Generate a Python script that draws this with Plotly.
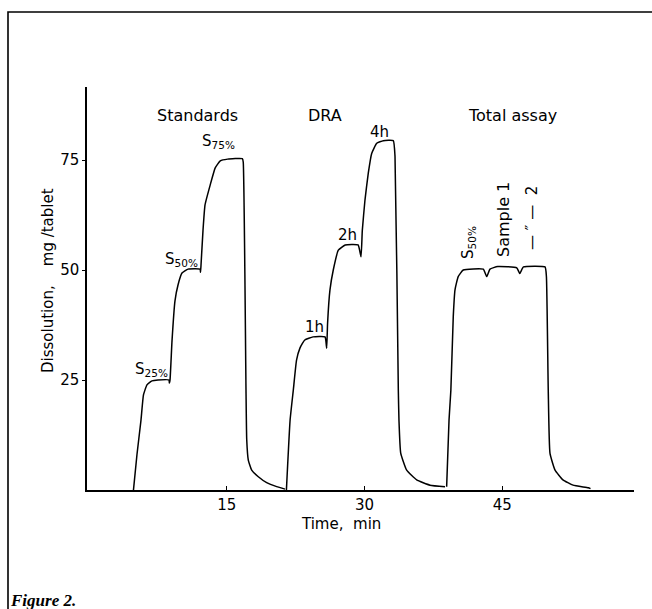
import plotly.graph_objects as go

# ---------------- data ----------------
std_time = [4.85, 5.23, 5.67, 5.94, 6.32, 6.87, 7.52, 8.72, 8.76, 8.83, 9.05, 9.37, 9.7, 10.13, 10.8,
            12.1, 12.15, 12.2, 12.42, 12.64, 13.2, 13.75, 14.3, 15.1, 16.7, 16.8, 17.1, 17.18,
            17.35, 17.72, 18.44, 19.35, 20.44, 21.35]
std_diss = [0, 8, 15.9, 21.6, 23.9, 24.8, 25, 25, 24.3, 25, 34, 43, 46.6, 49.3, 50.2,
            50.2, 49.5, 51, 59, 64.8, 69.3, 73.2, 74.8, 75.2, 75.3, 74.5, 22.7, 11.4,
            6.8, 4.5, 3.0, 1.66, 0.76, 0.2]

dra_time = [21.5, 21.9, 22.25, 22.6, 22.98, 23.5, 24.4, 25.7, 25.88, 25.98, 26.24, 26.6, 27.15,
            27.9, 29.3, 29.62, 29.76, 30.05, 30.41, 30.78, 31.33, 32.05, 33.13, 33.32, 33.68,
            33.75, 33.94, 34.59, 35.68, 37.13, 38.76]
dra_diss = [0, 15.9, 22.7, 29.5, 32.3, 34.1, 34.8, 34.8, 32.2, 37.9, 45.5, 50, 54.5,
            55.7, 55.7, 53, 59, 65.9, 72, 76.5, 78.8, 79.4, 79.4, 75.8, 22.7,
            15.9, 8.4, 4.5, 2.3, 1.1, 0.75]

tot_time = [38.94, 39.2, 39.4, 39.66, 39.85, 40.2, 40.75, 42.93, 43.3, 43.66, 44.5, 46.57, 46.9,
            47.3, 49.65, 49.8, 50.0, 50.19, 50.74, 51.6, 52.7, 54.36, 54.6]
tot_diss = [0.75, 15.9, 22.7, 39.4, 45.5, 48.5, 50, 50.2, 48.5, 50.2, 50.8, 50.5, 49.2,
            50.7, 50.7, 48.5, 22.7, 8.3, 4.5, 2.3, 1.1, 0.5, 0.3]

x_ticks = [15, 30, 45]
y_ticks = [25, 50, 75]

section_labels = ["Standards", "DRA", "Total assay"]
std_labels = ["S<sub>25%</sub>", "S<sub>50%</sub>", "S<sub>75%</sub>"]
dra_labels = ["1h", "2h", "4h"]
tot_labels = ["S<sub>50%</sub>", "Sample 1", "\u2014 \u2033 \u2014  2"]

# ---------------- layout geometry ----------------
W, H = 652, 609
L, R, T, B = 87, 634, 87, 490   # plot area in pixels


def paper(px, py):
    return (px - L) / (R - L), (B - py) / (B - T)


FONT = "DejaVu Sans"
fig = go.Figure()
for t, d in [(std_time, std_diss), (dra_time, dra_diss), (tot_time, tot_diss)]:
    fig.add_trace(go.Scatter(x=t, y=d, mode="lines",
                             line=dict(color="black", width=1.5, shape="spline", smoothing=0.4),
                             showlegend=False, hoverinfo="skip"))

ann = []


def add_text(txt, px, py, size=16, angle=0, xanchor="center"):
    x, y = paper(px, py)
    ann.append(dict(text=txt, x=x, y=y, xref="paper", yref="paper", showarrow=False,
                    xanchor=xanchor, yanchor="middle", textangle=angle,
                    font=dict(family=FONT, size=size, color="black")))


add_text(section_labels[0], 197, 115)
add_text(section_labels[1], 325, 115)
add_text(section_labels[2], 512, 115)
add_text(std_labels[0], 151, 369, 15)
add_text(std_labels[1], 181, 259, 15)
add_text(std_labels[2], 218, 141, 15)
add_text(dra_labels[0], 314, 327, 15)
add_text(dra_labels[1], 347, 235, 15)
add_text(dra_labels[2], 379, 132, 15)
add_text(tot_labels[0], 468, 243, 15, -90)
add_text(tot_labels[1], 503, 220, 16, -90)
add_text(tot_labels[2], 532, 218, 15, -90)
add_text("Time,\u00a0\u00a0min", 341, 524, 15)
add_text("Dissolution,\u00a0\u00a0\u00a0\u00a0mg\u00a0/tablet", 48, 281, 15, -90)

fx, fy = paper(8, 600)
ann.append(dict(text="<b><i>Figure 2.</i></b>", x=fx, y=fy, xref="paper", yref="paper",
                showarrow=False, xanchor="left", yanchor="middle",
                font=dict(family="Liberation Serif", size=17, color="black")))

bx0, by0 = paper(8, 609)
_, by1 = paper(8, 12)
bx1, _ = paper(652, 12)
shapes = [dict(type="path", xref="paper", yref="paper",
               path=f"M {bx0},{by0} L {bx0},{by1} L {bx1},{by1}",
               line=dict(color="black", width=1.6))]

x0 = (L - 88.9) / 9.187
x1 = (R - 88.9) / 9.187
fig.update_layout(
    width=W, height=H,
    margin=dict(l=L, r=W - R, t=T, b=H - B, pad=0),
    paper_bgcolor="white", plot_bgcolor="white",
    annotations=ann, shapes=shapes,
    xaxis=dict(range=[x0, x1], tickvals=x_ticks, ticktext=[str(v) for v in x_ticks],
               showgrid=False, zeroline=False, showline=True, linecolor="black", linewidth=1.5,
               ticks="inside", ticklen=4, tickcolor="black", tickwidth=1.2,
               tickfont=dict(family=FONT, size=15, color="black")),
    yaxis=dict(range=[0, (B - T) / 4.4], tickvals=y_ticks, ticktext=[str(v) for v in y_ticks],
               showgrid=False, zeroline=False, showline=True, linecolor="black", linewidth=1.5,
               ticks="outside", ticklen=3, tickcolor="black", tickwidth=1.2,
               tickfont=dict(family=FONT, size=15, color="black")),
)

fig.write_html("out.html", config={"displayModeBar": False},
               post_script="document.body.style.margin='0';document.body.style.overflow='hidden';")
